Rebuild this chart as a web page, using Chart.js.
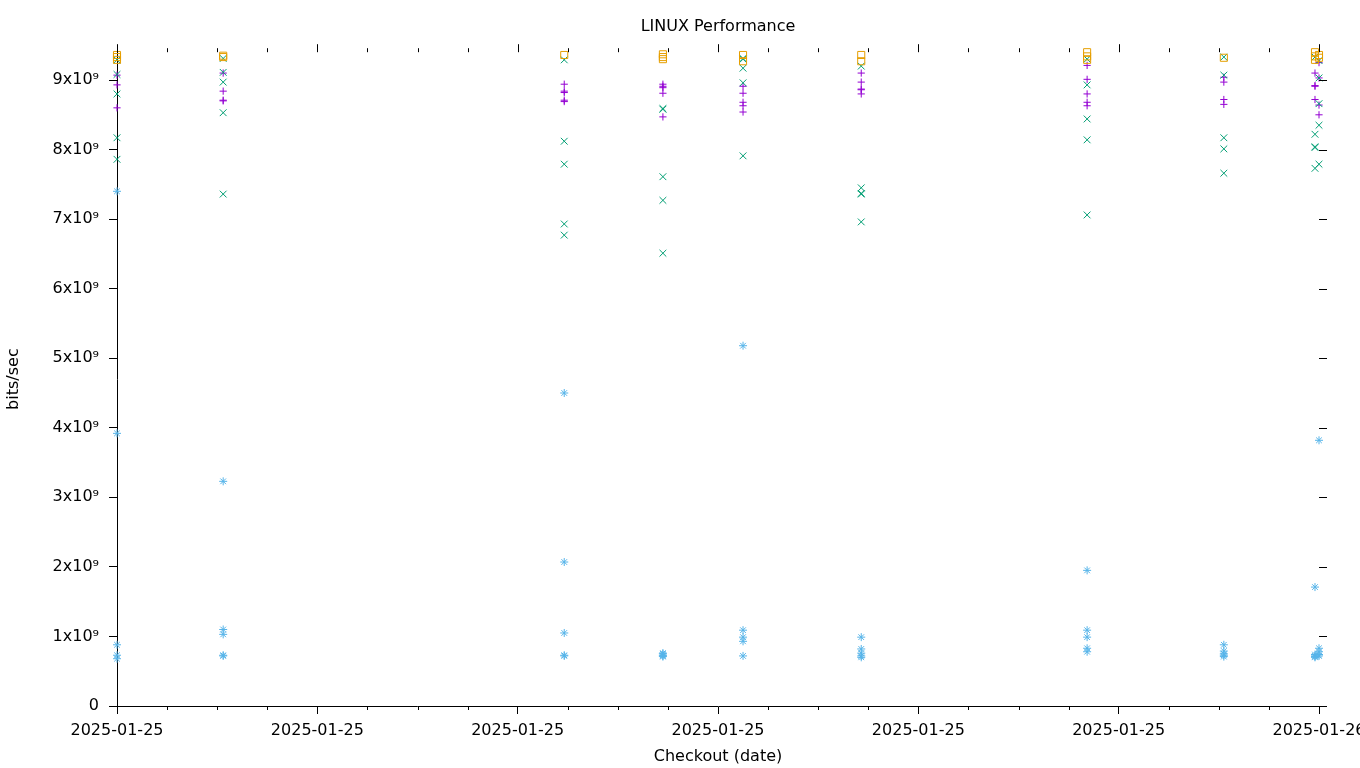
<!DOCTYPE html>
<html>
<head>
<meta charset="utf-8">
<title>LINUX Performance</title>
<script src="https://cdn.jsdelivr.net/npm/chart.js@4/dist/chart.umd.min.js"></script>
<style>
  html, body { margin: 0; padding: 0; background: #fff; }
  #wrap { width: 1360px; height: 768px; }
</style>
</head>
<body>
<div id="wrap"><canvas id="perf-chart" width="1360" height="768"></canvas></div>
<script>
// checkout times, hours after 2025-01-25 00:00
const checkoutHours = [0, 2.12, 8.93, 10.9, 12.5, 14.86, 19.37, 22.1, 23.92, 24];
const dayLabels = ['2025-01-25', '2025-01-26'];

// throughput per checkout, in units of 1e9 bits/sec
const plusSeries = [
  [9.07, 8.93, 8.60],
  [9.10, 8.84, 8.71, 8.70],
  [8.94, 8.84, 8.82, 8.71, 8.69],
  [8.94, 8.91, 8.89, 8.81, 8.47],
  [8.91, 8.81, 8.68, 8.63, 8.54],
  [9.10, 8.97, 8.87, 8.86, 8.80],
  [9.21, 9.01, 8.80, 8.68, 8.63],
  [9.04, 8.97, 8.72, 8.65],
  [9.10, 8.92, 8.91, 8.72],
  [9.25, 9.03, 8.64, 8.50]
];
const crossSeries = [
  [9.29, 9.08, 8.80, 8.17, 7.86],
  [9.31, 9.11, 8.97, 8.53, 7.36],
  [9.29, 8.12, 7.79, 6.93, 6.77],
  [8.59, 8.58, 7.61, 7.27, 6.51],
  [9.31, 9.30, 9.17, 8.96, 7.91],
  [9.20, 7.45, 7.37, 7.36, 6.96],
  [9.30, 8.93, 8.44, 8.14, 7.06],
  [9.33, 9.07, 8.17, 8.01, 7.66],
  [9.33, 8.22, 8.04, 8.03, 7.73],
  [9.28, 9.03, 8.66, 8.35, 7.79]
];
const starSeries = [
  [7.40, 3.92, 0.88, 0.73, 0.68],
  [3.23, 1.10, 1.03, 0.73, 0.72],
  [4.50, 2.07, 1.05, 0.73, 0.72],
  [0.76, 0.75, 0.73, 0.72, 0.71],
  [5.18, 1.09, 0.99, 0.93, 0.72],
  [0.99, 0.82, 0.76, 0.72, 0.70],
  [1.95, 1.09, 0.99, 0.83, 0.78],
  [0.88, 0.79, 0.75, 0.73, 0.71],
  [1.71, 0.74, 0.72, 0.71, 0.70],
  [3.82, 0.83, 0.78, 0.74, 0.72]
];
const squareSeries = [
  [9.36, 9.33, 9.29],
  [9.35, 9.33],
  [9.36],
  [9.37, 9.33, 9.30],
  [9.36, 9.27],
  [9.36, 9.27],
  [9.40, 9.34, 9.29],
  [9.32],
  [9.40, 9.34, 9.29],
  [9.36, 9.32]
];
const yTicks = [0, 1, 2, 3, 4, 5, 6, 7, 8, 9];

function toPoints(series) {
  const pts = [];
  series.forEach((vals, i) => {
    vals.forEach(v => pts.push({ x: checkoutHours[i], y: v * 1e9 }));
  });
  return pts;
}

function makeSet(label, series, color, style, radius) {
  return {
    label,
    data: toPoints(series),
    showLine: false,
    pointStyle: style,
    pointRadius: radius,
    pointHoverRadius: radius,
    pointBorderWidth: 1,
    pointBorderColor: color,
    pointBackgroundColor: 'rgba(0,0,0,0)',
    borderColor: color,
    backgroundColor: color,
    clip: false
  };
}

// gnuplot style mirrored and minor tics
const mirrorTicks = {
  id: 'mirrorTicks',
  afterDraw(chart) {
    const { ctx, chartArea, scales } = chart;
    const x = scales.x, y = scales.y;
    ctx.save();
    ctx.strokeStyle = '#000';
    ctx.lineWidth = 1;
    ctx.beginPath();
    for (let h = 0; h <= 24; h++) {
      const px = Math.round(x.getPixelForValue(h)) + 0.5;
      const major = h % 4 === 0;
      ctx.moveTo(px, chartArea.top);
      ctx.lineTo(px, chartArea.top - (major ? 8 : 4));
      if (!major) {
        ctx.moveTo(px, chartArea.bottom);
        ctx.lineTo(px, chartArea.bottom + 4);
      }
    }
    yTicks.forEach(t => {
      const py = Math.round(y.getPixelForValue(t * 1e9)) + 0.5;
      ctx.moveTo(chartArea.right, py);
      ctx.lineTo(chartArea.right + 8, py);
    });
    ctx.stroke();
    ctx.restore();
  }
};

Chart.defaults.font.family = "'DejaVu Sans', sans-serif";
Chart.defaults.font.size = 16;
Chart.defaults.color = '#000';

new Chart(document.getElementById('perf-chart'), {
  type: 'scatter',
  data: {
    datasets: [
      makeSet('series 4', squareSeries, '#e69f00', 'rect', 5),
      makeSet('series 3', starSeries, '#56b4e9', 'star', 4),
      makeSet('series 2', crossSeries, '#009e73', 'crossRot', 4.8),
      makeSet('series 1', plusSeries, '#9400d3', 'cross', 3.6)
    ]
  },
  options: {
    responsive: false,
    animation: false,
    layout: { padding: { left: 0, right: 41, top: 0, bottom: 0 } },
    plugins: {
      legend: { display: false },
      tooltip: { enabled: false },
      title: {
        display: true,
        text: 'LINUX Performance',
        fullSize: false,
        font: { size: 16, weight: 'normal' },
        padding: { top: 17, bottom: 16 }
      }
    },
    scales: {
      x: {
        type: 'linear',
        min: 0,
        max: 24,
        ticks: {
          stepSize: 4,
          maxRotation: 0,
          autoSkip: false,
          padding: 7,
          callback: v => (v >= 24 ? dayLabels[1] : dayLabels[0])
        },
        grid: { drawOnChartArea: false, tickLength: 8, color: '#000' },
        border: { color: '#000', width: 1 },
        title: { display: true, text: 'Checkout (date)', padding: { top: 2, bottom: 2 } },
        afterFit(scale) {
          scale.height = 62;
          scale.paddingLeft = 0;
          scale.paddingRight = 0;
        }
      },
      y: {
        type: 'linear',
        min: 0,
        max: 9.4e9,
        afterBuildTicks(scale) {
          scale.ticks = yTicks.map(t => ({ value: t * 1e9 }));
        },
        ticks: {
          padding: 10,
          callback: v => (v === 0 ? '0' : Math.round(v / 1e9) + 'x10\u2079')
        },
        grid: { drawOnChartArea: false, tickLength: 8, color: '#000' },
        border: { color: '#000', width: 1 },
        title: { display: true, text: 'bits/sec', padding: { top: 4, bottom: 4 } },
        afterFit(scale) {
          scale.width = 117;
        }
      }
    }
  },
  plugins: [mirrorTicks]
});
</script>
</body>
</html>
